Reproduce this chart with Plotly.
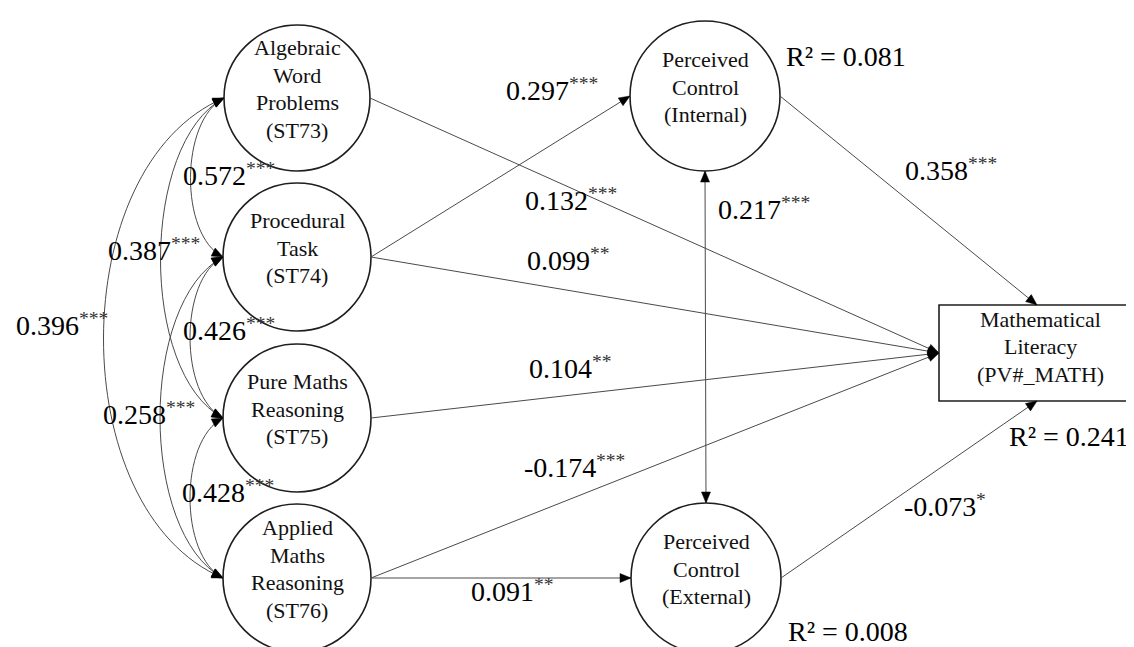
import math
import plotly.graph_objects as go

# ---------------- data ----------------
node_ids = ["ST73", "ST74", "ST75", "ST76", "PCI", "PCE", "MATH"]
node_labels = [
    "Algebraic<br>Word<br>Problems<br>(ST73)",
    "Procedural<br>Task<br>(ST74)",
    "Pure Maths<br>Reasoning<br>(ST75)",
    "Applied<br>Maths<br>Reasoning<br>(ST76)",
    "Perceived<br>Control<br>(Internal)",
    "Perceived<br>Control<br>(External)",
    "Mathematical<br>Literacy<br>(PV#_MATH)",
]

path_from = ["ST74", "ST76", "ST73", "ST74", "ST75", "ST76", "PCI", "PCE"]
path_to = ["PCI", "PCE", "MATH", "MATH", "MATH", "MATH", "MATH", "MATH"]
path_coef = ["0.297", "0.091", "0.132", "0.099", "0.104", "-0.174", "0.358", "-0.073"]
path_sig = ["***", "**", "***", "**", "**", "***", "***", "*"]

cov_a = ["ST73", "ST74", "ST75", "ST73", "ST74", "ST73", "PCI"]
cov_b = ["ST74", "ST75", "ST76", "ST75", "ST76", "ST76", "PCE"]
cov_coef = ["0.572", "0.426", "0.428", "0.387", "0.258", "0.396", "0.217"]
cov_sig = ["***", "***", "***", "***", "***", "***", "***"]

r2_nodes = ["PCI", "MATH", "PCE"]
r2_values = ["0.081", "0.241", "0.008"]

# ---------------- layout (positions / styles) ----------------
W, H = 1134, 647
FONT = "'Liberation Serif', 'DejaVu Serif', serif"
NODE_SIZE = 22
LABEL_SIZE = 28
STAR_SIZE = 19.6
LINE_GAP = 27.5
NODE_TEXT_SHIFT = 9
LABEL_SHIFT = 8
STAR_RAISE = 9
LINE = "#4a4a4a"
EDGE = "#1e1e1e"
CHAR_EM = {".": 0.25, "-": 0.333}  # Times-metric advance widths (digits 0.5 em)

pos = {"ST73": (289, 90), "ST74": (289, 249), "ST75": (289, 410), "ST76": (289, 570),
       "PCI": (697, 88), "PCE": (698, 570), "MATH": (1032, 345)}
radius = {"ST73": 73, "ST74": 74, "ST75": 74, "ST76": 74, "PCI": 75, "PCE": 75}
box_half = (101, 48)
node_text_dy = {"MATH": 2.5}

target_port = {("PCI", "MATH"): "top", ("PCE", "MATH"): "bottom"}

path_label_xy = {("ST74", "PCI"): (498, 90), ("ST76", "PCE"): (463, 591),
                 ("ST73", "MATH"): (517, 200), ("ST74", "MATH"): (519, 260),
                 ("ST75", "MATH"): (521, 368), ("ST76", "MATH"): (516, 467),
                 ("PCI", "MATH"): (897, 170), ("PCE", "MATH"): (896, 506)}
cov_label_xy = {("ST73", "ST74"): (175, 175), ("ST74", "ST75"): (175, 330),
                ("ST75", "ST76"): (174, 492), ("ST73", "ST75"): (100, 250),
                ("ST74", "ST76"): (95, 414), ("ST73", "ST76"): (8, 325),
                ("PCI", "PCE"): (710, 209)}
cov_bulge = {("ST73", "ST74"): 33, ("ST74", "ST75"): 33, ("ST75", "ST76"): 33,
             ("ST73", "ST75"): 63, ("ST74", "ST76"): 63, ("ST73", "ST76"): 120}
r2_xy = {"PCI": (778, 56), "MATH": (1001, 436), "PCE": (780, 631)}


def port(n, side):
    cx, cy = pos[n]
    if n == "MATH":
        hw, hh = box_half
        return {"left": (cx - hw, cy), "top": (cx - 3, cy - hh),
                "bottom": (cx - 3, cy + hh), "right": (cx + hw, cy)}[side]
    r = radius[n]
    return {"left": (cx - r, cy), "right": (cx + r, cy),
            "top": (cx, cy - r), "bottom": (cx, cy + r)}[side]


def arrowhead(tip, frm, L=11.0, w=4.5):
    dx, dy = tip[0] - frm[0], tip[1] - frm[1]
    d = math.hypot(dx, dy)
    ux, uy = dx / d, dy / d
    bx, by = tip[0] - L * ux, tip[1] - L * uy
    nx, ny = -uy, ux
    p = f"M {tip[0]:.2f},{tip[1]:.2f} L {bx + w*nx:.2f},{by + w*ny:.2f} L {bx - w*nx:.2f},{by - w*ny:.2f} Z"
    return dict(type="path", path=p, xref="x", yref="y", fillcolor="black",
                line=dict(color="black", width=0.5), layer="above")


shapes = []
annotations = []

for a, b in zip(cov_a, cov_b):
    if (a, b) in cov_bulge:
        p0 = port(a, "left")
        p3 = port(b, "left")
        span = p3[1] - p0[1]
        ax = cov_bulge[(a, b)] / 0.75
        c = 0.14 * span
        p1 = (p0[0] - ax, p0[1] + c)
        p2 = (p3[0] - ax, p3[1] - c)
        shapes.append(dict(type="path", xref="x", yref="y",
                           path=f"M {p0[0]},{p0[1]} C {p1[0]:.2f},{p1[1]:.2f} {p2[0]:.2f},{p2[1]:.2f} {p3[0]},{p3[1]}",
                           line=dict(color=LINE, width=1)))
        shapes.append(arrowhead(p0, p1))
        shapes.append(arrowhead(p3, p2))
    else:
        p0 = port(a, "bottom")
        p1 = port(b, "top")
        shapes.append(dict(type="line", xref="x", yref="y", x0=p0[0], y0=p0[1],
                           x1=p1[0], y1=p1[1], line=dict(color=LINE, width=1)))
        shapes.append(arrowhead(p0, p1))
        shapes.append(arrowhead(p1, p0))

for s, t in zip(path_from, path_to):
    p0 = port(s, "right")
    p1 = port(t, target_port.get((s, t), "left"))
    shapes.append(dict(type="line", xref="x", yref="y", x0=p0[0], y0=p0[1],
                       x1=p1[0], y1=p1[1], line=dict(color=LINE, width=1)))
    shapes.append(arrowhead(p1, p0))

for n, lab in zip(node_ids, node_labels):
    cx, cy = pos[n]
    if n == "MATH":
        hw, hh = box_half
        shapes.append(dict(type="rect", xref="x", yref="y", x0=cx - hw, x1=cx + hw,
                           y0=cy - hh, y1=cy + hh, fillcolor="white",
                           line=dict(color=EDGE, width=1.6), layer="below"))
    else:
        r = radius[n]
        shapes.append(dict(type="circle", xref="x", yref="y", x0=cx - r, x1=cx + r,
                           y0=cy - r, y1=cy + r, fillcolor="white",
                           line=dict(color=EDGE, width=1.6), layer="below"))
    lines = lab.split("<br>")
    k = len(lines)
    for i, ln in enumerate(lines):
        ly = cy + node_text_dy.get(n, 0) + (i - (k - 1) / 2) * LINE_GAP
        annotations.append(dict(x=cx, y=ly, xref="x", yref="y", text=ln, showarrow=False,
                                font=dict(family=FONT, size=NODE_SIZE, color="#111"),
                                xanchor="center", yanchor="middle", yshift=NODE_TEXT_SHIFT))


def text_width(s, size):
    return sum(CHAR_EM.get(ch, 0.5) for ch in s) * size


def coef_label(x, y, num, stars):
    annotations.append(dict(x=x, y=y, xref="x", yref="y", text=num,
                            showarrow=False, font=dict(family=FONT, size=LABEL_SIZE, color="black"),
                            xanchor="left", yanchor="middle", yshift=LABEL_SHIFT, xshift=-2))
    annotations.append(dict(x=x + text_width(num, LABEL_SIZE), y=y - STAR_RAISE, xref="x", yref="y",
                            text=stars, showarrow=False,
                            font=dict(family=FONT, size=STAR_SIZE, color="#333"),
                            xanchor="left", yanchor="middle",
                            yshift=LABEL_SHIFT * STAR_SIZE / LABEL_SIZE, xshift=-2))


for s, t, c, sg in zip(path_from, path_to, path_coef, path_sig):
    coef_label(*path_label_xy[(s, t)], c, sg)
for a, b, c, sg in zip(cov_a, cov_b, cov_coef, cov_sig):
    coef_label(*cov_label_xy[(a, b)], c, sg)
for n, v in zip(r2_nodes, r2_values):
    x, y = r2_xy[n]
    annotations.append(dict(x=x, y=y, xref="x", yref="y", text=f"R\u00b2 = {v}",
                            showarrow=False, font=dict(family=FONT, size=LABEL_SIZE, color="black"),
                            xanchor="left", yanchor="middle", yshift=LABEL_SHIFT, xshift=-2))

fig = go.Figure()
fig.update_layout(
    width=W, height=H, margin=dict(l=0, r=0, t=0, b=0),
    paper_bgcolor="white", plot_bgcolor="white", showlegend=False,
    xaxis=dict(range=[0, W], visible=False, fixedrange=True),
    yaxis=dict(range=[H, 0], visible=False, fixedrange=True),
    shapes=shapes, annotations=annotations,
)
fig.write_html("out.html")
